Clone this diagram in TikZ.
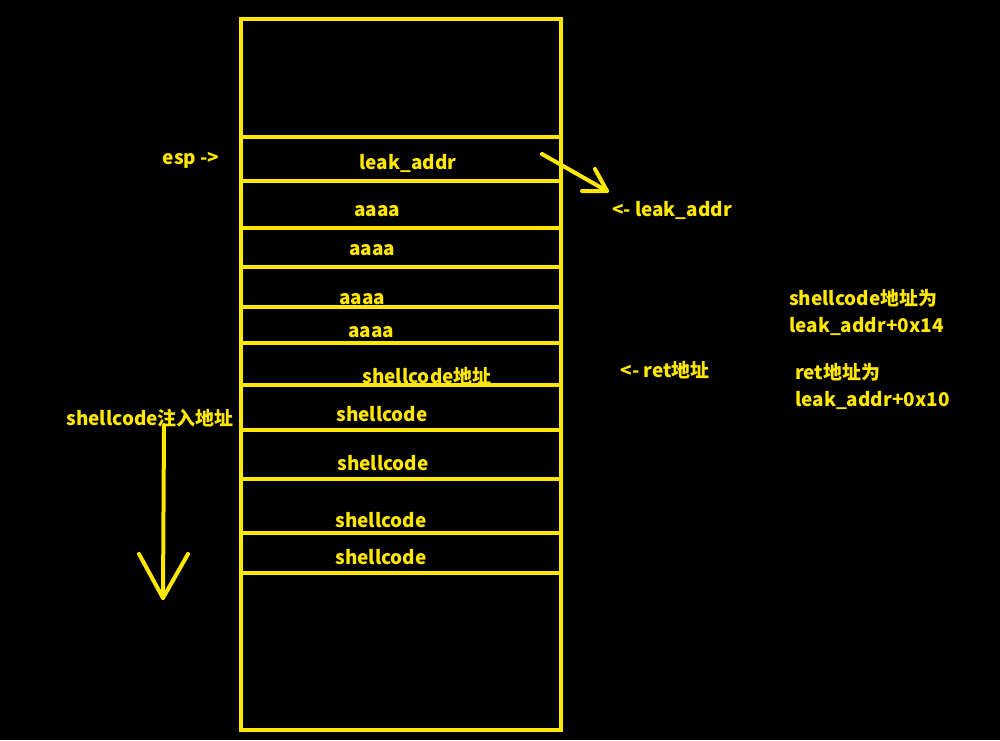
\documentclass[tikz,border=0pt]{standalone}
\usepackage{fontspec}
\setmainfont{Noto Sans CJK SC}
\begin{document}
\begin{tikzpicture}[x=0.75pt,y=-0.75pt,
  every node/.style={text=yel,font=\fontsize{14.2}{16}\selectfont\bfseries,inner sep=0pt},
  ln/.style={draw=yel,line width=3pt,line cap=round},
  arr/.style={draw=yel,line width=3pt,line cap=round,line join=round}]
\definecolor{yel}{RGB}{255,232,0}
\fill[black] (0,0) rectangle (1000,740);
\useasboundingbox (0,0) rectangle (1000,740);
% stack frame
\draw[ln] (241,19) rectangle (561,730);
\foreach \y in {137,181,228,267,307,343,385,430,479,533,573}
  \draw[ln] (241,\y) -- (559,\y);
% texts inside
\node (esp) at (191,160) {esp ->};
\node (la) at (408,163) {leak\_addr};
\node (a1) at (377,211) {aaaa};
\node (a2) at (372,250) {aaaa};
\node (a3) at (362,299) {aaaa};
\node (a4) at (371,332) {aaaa};
\node (sa) at (427,376) {shellcode地址};
\node (s1) at (382,414) {shellcode};
\node (s2) at (383,463) {shellcode};
\node (s3) at (381,520) {shellcode};
\node (s4) at (381,557) {shellcode};
\node (inj) at (150,418) {shellcode注入地址};
\node (pla) at (672,210) {<- leak\_addr};
\node (pret) at (665,370) {<- ret地址};
\node[anchor=west] (n1) at (789,298) {shellcode地址为};
\node[anchor=west] (n2) at (789,326) {leak\_addr+0x14};
\node[anchor=west] (n3) at (795,372) {ret地址为};
\node[anchor=west] (n4) at (795,400) {leak\_addr+0x10};
% diagonal arrow
\coordinate (d0) at (542,154);
\coordinate (d1) at (607,191);
\coordinate (dw1) at (595,169);
\coordinate (dw2) at (582,191);
\draw[arr] (d0) -- (d1);
\draw[arr] (dw1) -- (d1) -- (dw2);
% vertical arrow
\coordinate (v0) at (164,425);
\coordinate (v1) at (163,598);
\coordinate (vw1) at (139,554);
\coordinate (vw2) at (188,554);
\draw[arr] (v0) -- (v1);
\draw[arr] (vw1) -- (v1) -- (vw2);
\end{tikzpicture}
\end{document}
